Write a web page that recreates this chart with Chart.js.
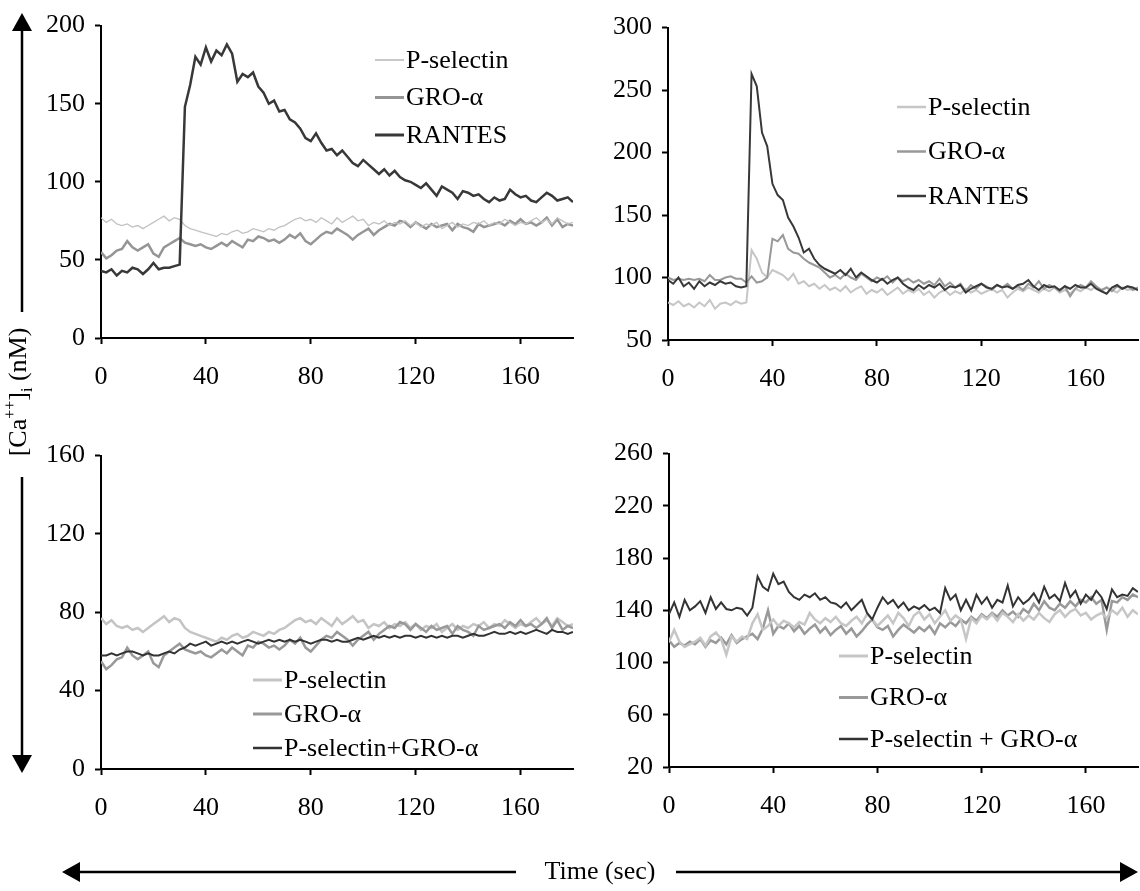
<!DOCTYPE html>
<html>
<head>
<meta charset="utf-8">
<title>[Ca++]i response</title>
<script src="https://cdn.jsdelivr.net/npm/chart.js@4.4.1/dist/chart.umd.min.js"></script>
<style>
  body { margin: 0; background: #fff; }
  #page { position: relative; width: 1140px; height: 891px; overflow: hidden; }
  canvas { position: absolute; }
  svg { position: absolute; left: 0; top: 0; pointer-events: none; }
</style>
</head>
<body>
<div id="page">
  <canvas id="chartTL" width="558" height="398" style="left:21px;top:0px"></canvas>
  <canvas id="chartTR" width="552" height="398" style="left:588px;top:2px"></canvas>
  <canvas id="chartBL" width="558" height="399" style="left:21px;top:430px"></canvas>
  <canvas id="chartBR" width="551" height="399" style="left:589px;top:428px"></canvas>
  <svg width="1140" height="891" font-family="Liberation Serif, Times New Roman, serif">
    <!-- y axis title with arrows -->
    <line x1="22" y1="28" x2="22" y2="312" stroke="#000" stroke-width="2.5"/>
    <polygon points="22,13 12,31 32,31" fill="#000"/>
    <line x1="22" y1="477" x2="22" y2="758" stroke="#000" stroke-width="2.5"/>
    <polygon points="22,773 12,755 32,755" fill="#000"/>
    <text x="20" y="392" transform="rotate(-90 20 392)" text-anchor="middle" dominant-baseline="middle" font-size="26">[Ca<tspan baseline-shift="super" font-size="16">++</tspan>]<tspan baseline-shift="sub" font-size="16">i</tspan> (nM)</text>
    <!-- time axis title with arrows -->
    <line x1="78" y1="872" x2="516" y2="872" stroke="#000" stroke-width="2.5"/>
    <polygon points="62,872 80,862 80,882" fill="#000"/>
    <line x1="676" y1="872" x2="1122" y2="872" stroke="#000" stroke-width="2.5"/>
    <polygon points="1138,872 1120,862 1120,882" fill="#000"/>
    <text x="600" y="873" text-anchor="middle" dominant-baseline="middle" font-size="26">Time (sec)</text>
  </svg>
</div>
<script>
// time in seconds
const time = [0,2,4,6,8,10,12,14,16,18,20,22,24,26,28,30,32,34,36,38,40,42,44,46,48,50,52,54,56,58,
  60,62,64,66,68,70,72,74,76,78,80,82,84,86,88,90,92,94,96,98,100,102,104,106,108,110,112,114,116,118,
  120,122,124,126,128,130,132,134,136,138,140,142,144,146,148,150,152,154,156,158,160,162,164,166,168,170,172,174,176,178,180];

// top left panel
const pselA = [77,74,76,73,72,73,71,72,70,72, 74,76,78,75,77,76,72,70,69,68,
  67,66,65,67,66,68,69,67,68,70, 69,68,70,69,71,72,74,76,77,75,
  76,74,77,75,73,77,74,76,78,75, 76,72,74,73,75,72,74,73,75,72,
  74,71,73,72,74,70,72,74,71,73, 72,74,73,75,72,74,73,76,74,72,
  74,73,75,77,74,76,73,77,75,73, 74];
const groA = [55,51,53,56,57,62,58,56,58,60, 54,52,58,60,62,64,61,60,59,60,
  58,57,59,61,59,62,60,58,63,62, 65,64,62,63,61,63,66,64,67,62,
  60,63,66,68,67,70,68,66,63,66, 68,70,66,69,71,73,72,75,74,71,
  74,72,70,73,71,72,73,69,73,71, 70,68,73,71,72,73,74,72,75,73,
  76,73,74,72,74,77,72,76,71,73, 72];
const rantesA = [43,42,44,40,43,42,45,44,41,44, 48,44,45,45,46,47,148,162,180,175,
  186,177,184,181,188,182,164,169,167,170, 161,157,150,152,145,146,140,138,134,128,
  126,131,125,120,121,117,120,116,112,110, 114,111,108,105,108,104,107,103,101,100,
  98,96,99,95,91,97,95,93,89,94, 93,91,92,89,87,90,88,89,95,92,
  90,91,88,87,90,93,91,88,89,90, 87];

// top right panel
const pselB = [80,78,81,77,79,76,80,77,82,75, 79,80,78,81,79,80,122,115,104,100,
  106,104,102,98,103,95,97,93,95,91, 94,90,92,89,93,88,91,93,87,90,
  88,91,86,89,92,87,90,88,91,86, 89,84,88,90,86,89,87,91,88,90,
  87,89,91,88,90,84,88,91,89,92, 90,88,91,89,92,88,90,87,91,89,
  92,90,93,89,92,90,88,92,90,91, 90];
const groB = [100,98,99,98,99,98,99,97,102,98, 98,100,101,99,99,96,101,96,97,100,
  131,129,134,123,120,119,115,112,110,108, 104,100,102,99,103,100,98,103,100,97,
  100,98,101,96,100,97,99,96,98,95, 97,94,99,93,96,92,95,89,94,91,
  95,93,90,94,92,95,91,93,90,95, 92,97,91,94,92,89,93,85,91,94,
  92,97,93,90,92,89,93,91,93,90, 92];
const rantesB = [98,95,100,93,96,91,97,93,96,94, 97,95,96,93,92,93,263,253,216,205,
  175,166,162,148,141,132,120,123,115,110, 107,105,103,106,102,107,100,104,101,98,
  96,99,95,98,100,95,92,90,94,91, 94,92,95,90,93,92,94,88,91,93,
  95,92,91,94,92,93,91,94,95,98, 93,90,94,92,93,90,93,91,94,92,
  92,95,91,89,87,92,94,91,93,92, 90];

// bottom left panel (P-selectin and GRO-alpha traces as above)
const comboC = [58,58,59,58,59,60,60,59,58,59, 58,58,59,60,59,61,62,64,63,64,
  65,63,64,65,64,65,64,65,66,65, 64,65,66,65,66,65,66,65,66,65,
  64,65,66,66,65,66,65,65,66,67, 66,67,68,67,68,67,68,67,68,68,
  67,68,67,68,67,68,67,68,68,67, 68,69,68,68,69,70,69,69,70,69,
  70,69,70,71,70,69,71,70,70,69, 70];

// bottom right panel
const pselD = [116,125,116,112,114,116,119,113,120,123, 118,106,120,116,120,118,130,137,125,128,
  133,128,132,130,127,131,129,138,133,130, 134,131,135,130,128,132,135,130,137,133,
  128,132,136,130,138,134,128,136,139,133, 137,130,135,140,132,136,133,118,134,130,
  136,133,137,132,138,135,131,137,132,136, 133,138,134,131,137,140,135,139,141,136,
  138,133,136,138,134,140,137,142,135,140, 137];
const groD = [117,112,115,113,116,114,118,112,117,115, 119,114,121,115,118,120,122,118,126,140,
  122,128,126,130,124,128,122,126,129,123, 127,121,125,128,122,126,120,124,129,133,
  127,125,128,120,125,129,126,123,127,124, 128,122,130,127,131,128,133,130,135,132,
  137,134,138,135,140,136,139,135,141,138, 145,140,147,142,140,145,142,147,143,148,
  146,150,145,148,125,147,146,150,148,152, 150];
const comboD = [137,146,135,148,140,143,147,138,150,141, 146,141,140,142,141,136,142,166,158,155,
  168,160,162,154,150,148,152,150,153,148, 150,146,145,142,146,140,144,148,138,133,
  142,150,145,148,142,146,140,143,141,144, 140,142,138,157,148,152,140,148,140,152,
  145,150,142,148,146,159,143,150,145,148, 153,146,158,149,152,147,161,150,155,145,
  152,148,155,150,141,156,150,152,151,157, 154];

const xTicks = { min: 0, max: 180, step: 40 };

Chart.defaults.font.family = '"Liberation Serif", "Times New Roman", serif';
Chart.defaults.font.size = 26;
Chart.defaults.color = '#000';

const insideLegend = {
  id: 'insideLegend',
  afterDatasetsDraw(chart, args, opts) {
    const ctx = chart.ctx;
    ctx.save();
    ctx.font = '26px "Liberation Serif", "Times New Roman", serif';
    ctx.textBaseline = 'middle';
    ctx.fillStyle = '#000';
    chart.data.datasets.forEach((ds, i) => {
      const y = opts.y + i * opts.gap;
      ctx.strokeStyle = ds.borderColor;
      ctx.lineWidth = ds.borderWidth + 0.5;
      ctx.beginPath();
      ctx.moveTo(opts.x, y);
      ctx.lineTo(opts.x + 29, y);
      ctx.stroke();
      ctx.fillText(ds.label, opts.x + 31, y + 1);
    });
    ctx.restore();
  }
};

function axis(min, max, step, isX) {
  return {
    type: 'linear',
    min: min,
    max: max,
    afterFit: (s) => { if (isX) s.height = 60; else s.width = 80; },
    ticks: { stepSize: step, includeBounds: false, maxRotation: 0, padding: isX ? 18 : 10 },
    grid: { drawOnChartArea: false, tickLength: 6, tickWidth: 2, tickColor: '#000' },
    border: { color: '#000', width: 2 }
  };
}

function line(label, data, color, width, order) {
  return { label: label, data: data, borderColor: color, borderWidth: width,
           pointRadius: 0, tension: 0, fill: false, order: order };
}

function makeChart(id, datasets, yMin, yMax, yStep, legendPos, padRight) {
  return new Chart(document.getElementById(id), {
    type: 'line',
    data: { labels: time, datasets: datasets },
    options: {
      responsive: false,
      animation: false,
      devicePixelRatio: 1,
      layout: { padding: { top: 17, right: padRight, left: 0, bottom: 0 } },
      scales: {
        x: axis(xTicks.min, xTicks.max, xTicks.step, true),
        y: axis(yMin, yMax, yStep, false)
      },
      plugins: {
        legend: { display: false },
        tooltip: { enabled: false },
        insideLegend: legendPos
      }
    },
    plugins: [insideLegend]
  });
}

makeChart('chartTL', [
  line('P-selectin', pselA, '#c2c2c2', 1.3, 2),
  line('GRO-\u03b1', groA, '#959595', 2.5, 3),
  line('RANTES', rantesA, '#383838', 2.5, 1)
], 0, 200, 50, { x: 354, y: 60, gap: 37.5 }, 6);

makeChart('chartTR', [
  line('P-selectin', pselB, '#c6c6c6', 2, 3),
  line('GRO-\u03b1', groB, '#999999', 2, 2),
  line('RANTES', rantesB, '#383838', 2, 1)
], 50, 300, 50, { x: 309, y: 105, gap: 44.5 }, 2);

makeChart('chartBL', [
  line('P-selectin', pselA, '#c4c4c4', 2.5, 3),
  line('GRO-\u03b1', groA, '#999999', 2.5, 2),
  line('P-selectin+GRO-\u03b1', comboC, '#333333', 2, 1)
], 0, 160, 40, { x: 232, y: 250, gap: 34 }, 6);

makeChart('chartBR', [
  line('P-selectin', pselD, '#c6c6c6', 2.5, 2),
  line('GRO-\u03b1', groD, '#999999', 2.5, 3),
  line('P-selectin + GRO-\u03b1', comboD, '#333333', 2, 1)
], 20, 260, 40, { x: 250, y: 228, gap: 41.5 }, 2);
</script>
</body>
</html>
